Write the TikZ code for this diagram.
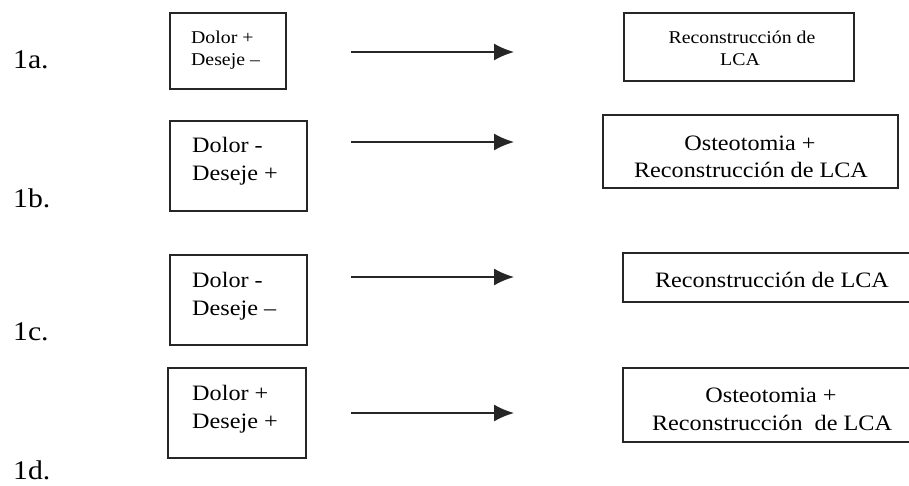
\documentclass[tikz,border=0pt]{standalone}
\usepackage{fontspec}
\setmainfont{Liberation Serif}[FakeStretch=1.1]
\usetikzlibrary{arrows.meta}
\tikzset{
  boxframe/.style={draw=black!85, line width=1.6pt, inner sep=0pt},
  lbl/.style={anchor=base west, inner sep=0pt, font=\fontsize{27}{30}\selectfont},
  txt/.style={anchor=base west, inner sep=0pt, font=\fontsize{22}{28}\selectfont},
  smalltxt/.style={anchor=base west, inner sep=0pt, font=\fontsize{18}{22}\selectfont},
  ctxt/.style={anchor=base, inner sep=0pt, font=\fontsize{22}{28}\selectfont},
  csmalltxt/.style={anchor=base, inner sep=0pt, font=\fontsize{18}{22}\selectfont},
  arr/.style={draw=black!85, line width=1.8pt, -{Latex[length=20pt,width=17pt]}}
}
\begin{document}
\begin{tikzpicture}[x=1pt,y=-1pt]
\useasboundingbox (0,0) rectangle (909,485);
\clip (0,0) rectangle (909,485);
% row labels
\node[lbl] (la) at (13,68) {1a.};
\node[lbl] (lb) at (13,207) {1b.};
\node[lbl] (lc) at (13,340) {1c.};
\node[lbl] (ld) at (13,479) {1d.};
% left boxes
\draw[boxframe] (170,13) rectangle (286,89);
\draw[boxframe] (170,121) rectangle (307,211);
\draw[boxframe] (170,255) rectangle (307,345);
\draw[boxframe] (168,368) rectangle (306,458);
\node[smalltxt] (a1) at (191,43) {Dolor +};
\node[smalltxt] (a2) at (191,65) {Deseje –};
\node[txt] (b1) at (192,152) {Dolor -};
\node[txt] (b2) at (192,180) {Deseje +};
\node[txt] (c1) at (192,287) {Dolor -};
\node[txt] (c2) at (192,315) {Deseje –};
\node[txt] (d1) at (192,400) {Dolor +};
\node[txt] (d2) at (192,428) {Deseje +};
% right boxes
\draw[boxframe] (624,13) rectangle (854,81);
\draw[boxframe] (603,115) rectangle (898,188);
\draw[boxframe] (623,253) rectangle (920,302);
\draw[boxframe] (623,368) rectangle (920,442);
\node[csmalltxt] (ra1) at (742,43) {Reconstrucción de};
\node[csmalltxt] (ra2) at (740,65) {LCA};
\node[ctxt] (rb1) at (750,150) {Osteotomia +};
\node[ctxt] (rb2) at (751,177) {Reconstrucción de LCA};
\node[ctxt] (rc1) at (772,287) {Reconstrucción de LCA};
\node[ctxt] (rd1) at (771,402) {Osteotomia +};
\node[ctxt] (rd2) at (772,430) {Reconstrucción\ \ de LCA};
% arrows
\coordinate (sa) at (351,52); \coordinate (ea) at (514,52);
\coordinate (sb) at (351,142); \coordinate (eb) at (514,142);
\coordinate (sc) at (351,277); \coordinate (ec) at (514,277);
\coordinate (sd) at (351,413); \coordinate (ed) at (514,413);
\draw[arr] (sa) -- (ea);
\draw[arr] (sb) -- (eb);
\draw[arr] (sc) -- (ec);
\draw[arr] (sd) -- (ed);
\end{tikzpicture}
\end{document}
